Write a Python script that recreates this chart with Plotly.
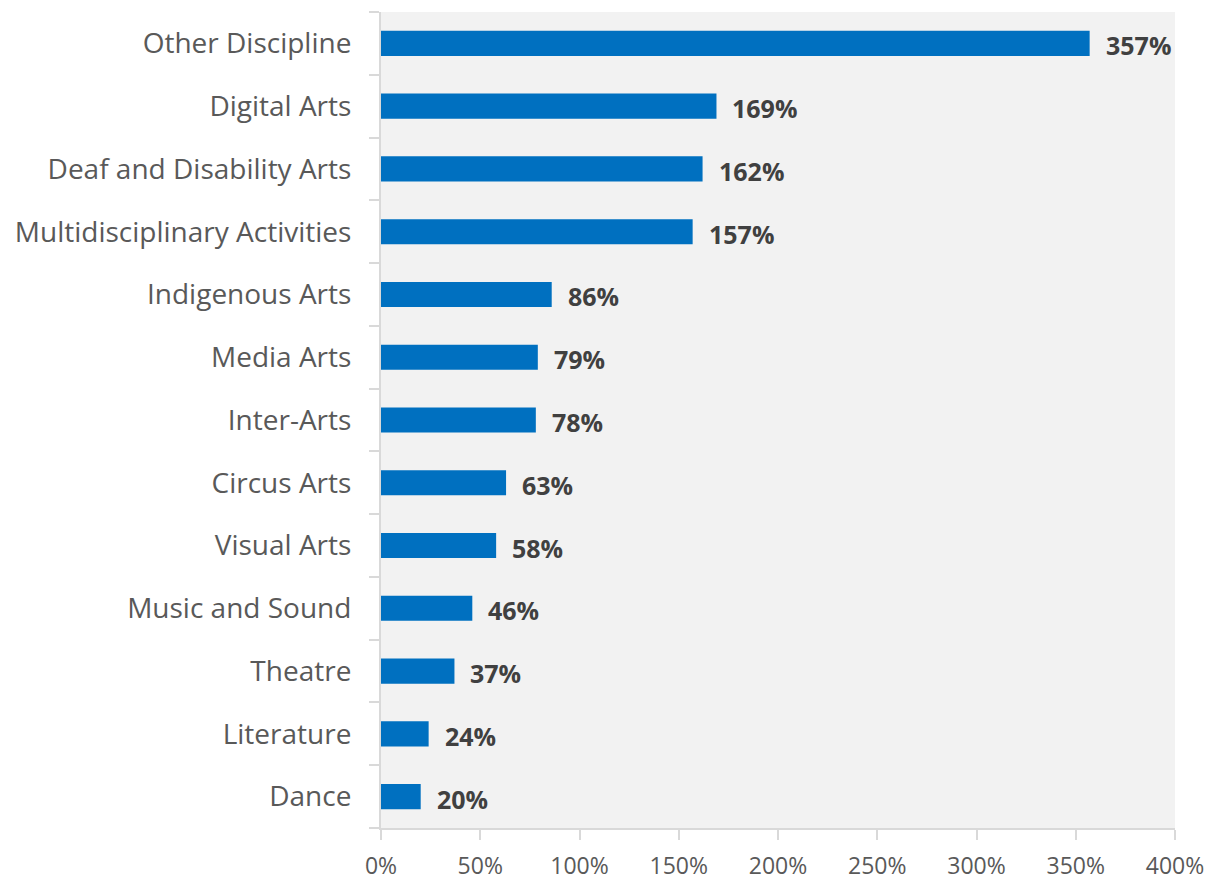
import plotly.graph_objects as go

categories = [
    "Other Discipline", "Digital Arts", "Deaf and Disability Arts",
    "Multidisciplinary Activities", "Indigenous Arts", "Media Arts",
    "Inter-Arts", "Circus Arts", "Visual Arts", "Music and Sound",
    "Theatre", "Literature", "Dance",
]
growth_pct = [357, 169, 162, 157, 86, 79, 78, 63, 58, 46, 37, 24, 20]
x_ticks = [0, 50, 100, 150, 200, 250, 300, 350, 400]
x_tick_labels = [f"{v}%" for v in x_ticks]

# bottom-to-top order so the largest value sits on top
cats = categories[::-1]
vals = growth_pct[::-1]

fig = go.Figure(
    go.Bar(
        x=vals,
        y=cats,
        orientation="h",
        width=0.4,
        marker=dict(color="#0070c0", line=dict(width=0)),
        hoverinfo="skip",
    )
)

for c, v in zip(cats, vals):
    fig.add_annotation(
        x=v, y=c, text=f"<b>{v}%</b>", showarrow=False,
        xanchor="left", yanchor="middle", xshift=14, yshift=-2,
        font=dict(family="Open Sans", size=25, color="#404040"),
    )

fig.update_layout(
    width=1210,
    height=881,
    margin=dict(l=381, r=35, t=12, b=53, autoexpand=False),
    paper_bgcolor="white",
    plot_bgcolor="#f2f2f2",
    showlegend=False,
    bargap=0.6,
)

fig.update_xaxes(
    range=[0, 400],
    tickvals=x_ticks,
    ticktext=x_tick_labels,
    showgrid=False,
    zeroline=False,
    showline=True,
    linecolor="#d9d9d9",
    linewidth=2,
    ticks="outside",
    ticklen=10,
    tickwidth=2,
    tickcolor="#d9d9d9",
    ticklabelstandoff=6,
    automargin=False,
    tickfont=dict(family="Open Sans", size=23, color="#595959"),
)

fig.update_yaxes(
    categoryorder="array",
    categoryarray=cats,
    showgrid=False,
    showline=True,
    linecolor="#d9d9d9",
    linewidth=2,
    ticks="outside",
    tickson="boundaries",
    ticklen=10,
    tickwidth=2,
    tickcolor="#d9d9d9",
    ticklabelstandoff=22,
    automargin=False,
    tickfont=dict(family="Open Sans", size=28, color="#595959"),
)

fig.write_html("out.html")
